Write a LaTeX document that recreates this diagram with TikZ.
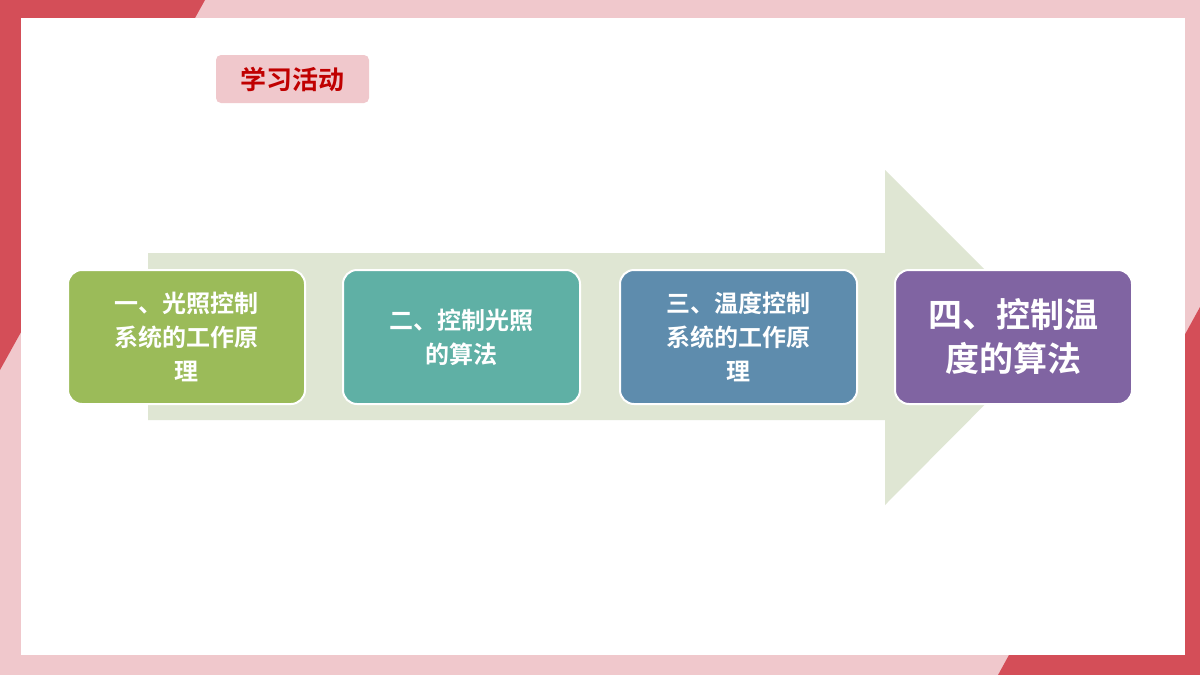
\documentclass[tikz,border=0pt]{standalone}
\usepackage{fontspec}
\newfontfamily\cjk{Noto Sans CJK SC Bold}
\definecolor{pinkbg}{HTML}{F0C8CC}
\definecolor{redbg}{HTML}{D44E58}
\definecolor{arrowbg}{HTML}{DFE6D3}
\definecolor{stepA}{HTML}{9BBB59}
\definecolor{stepB}{HTML}{5FB0A5}
\definecolor{stepC}{HTML}{5E8CAD}
\definecolor{stepD}{HTML}{8064A2}
\definecolor{titlered}{HTML}{C00000}
\tikzstyle{stage}=[draw=white, line width=2pt, rounded corners=14pt, minimum width=237pt,
  minimum height=134pt, text width=200pt, align=center, text=white,
  font=\cjk\fontsize{24}{34}\selectfont]
\begin{document}
\begin{tikzpicture}[x=1pt, y=-1pt]
\useasboundingbox (0,0) rectangle (1200,675);
\fill[pinkbg] (0,0) rectangle (1200,675);
\fill[redbg] (0,0) -- (205,0) -- (0,370) -- cycle;
\fill[redbg] (1200,307) -- (1200,675) -- (998,675) -- cycle;
\fill[white] (21,18) rectangle (1185,655);
%
\draw(292.5,79) node[fill=pinkbg, rounded corners=5pt, minimum width=153pt,
  minimum height=48pt, text=titlered, font=\cjk\fontsize{26}{30}\selectfont](title){学习活动};
%
\fill[arrowbg] (148,253) -- (885,253) -- (885,170) -- (1052,337) -- (885,505)
  -- (885,420) -- (148,420) -- cycle;
%
\draw(186.5,337) node[stage, fill=stepA](light){一、光照控制\\系统的工作原\\理};
\draw(461.5,337) node[stage, fill=stepB](lightalg){二、控制光照\\的算法};
\draw(738.5,337) node[stage, fill=stepC](temp){三、温度控制\\系统的工作原\\理};
\draw(1013.5,337) node[stage, fill=stepD, font=\cjk\fontsize{34}{44}\selectfont](tempalg){四、控制温\\度的算法};
\end{tikzpicture}
\end{document}
